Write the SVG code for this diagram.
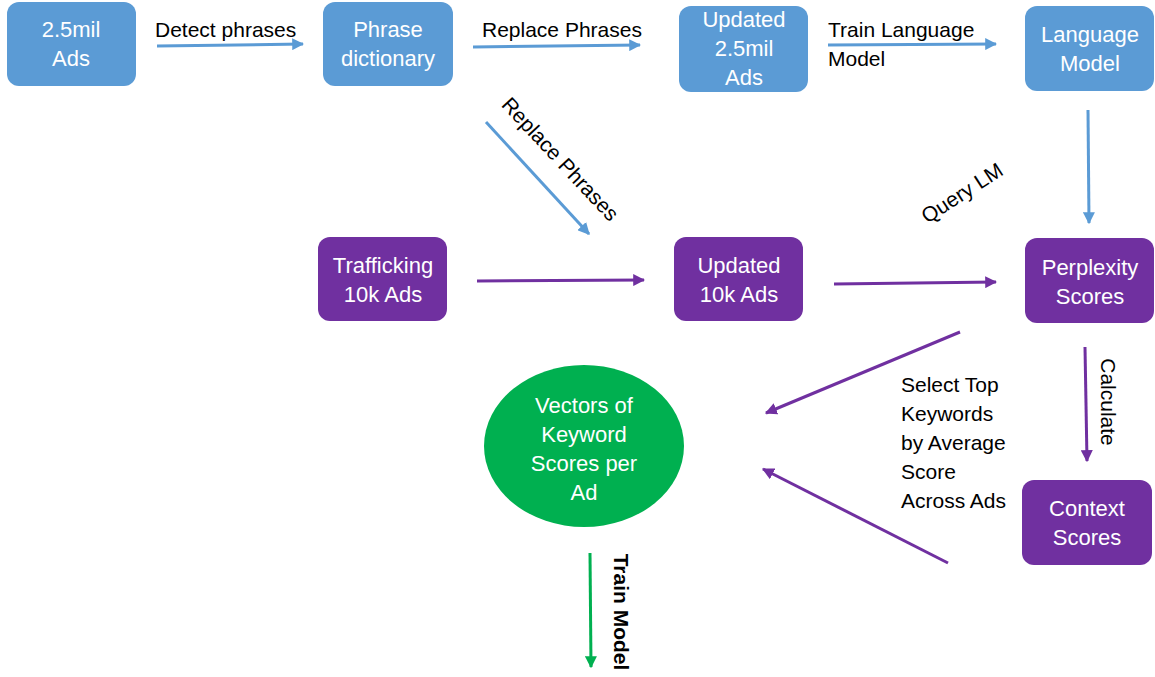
<svg xmlns="http://www.w3.org/2000/svg" width="1155" height="677" viewBox="0 0 1155 677">
<style>
.blue{fill:#5B9BD5}
.purple{fill:#7030A0}
.nt{font-family:"Liberation Sans",Arial,sans-serif;font-size:22px;fill:#fff;text-anchor:middle}
.lt{font-family:"Liberation Sans",Arial,sans-serif;font-size:21px;fill:#000}
.cb{stroke:#5B9BD5;stroke-width:3;fill:none}
.cp{stroke:#7030A0;stroke-width:3;fill:none}
.cg{stroke:#00B050;stroke-width:3;fill:none}
</style>
<defs>
<marker id="ab" viewBox="0 0 10 10" refX="9" refY="5" markerWidth="4" markerHeight="4" orient="auto" markerUnits="strokeWidth"><path d="M0,0 L10,5 L0,10 z" fill="#5B9BD5"/></marker>
<marker id="ap" viewBox="0 0 10 10" refX="9" refY="5" markerWidth="4" markerHeight="4" orient="auto" markerUnits="strokeWidth"><path d="M0,0 L10,5 L0,10 z" fill="#7030A0"/></marker>
<marker id="ag" viewBox="0 0 10 10" refX="9" refY="5" markerWidth="4" markerHeight="4" orient="auto" markerUnits="strokeWidth"><path d="M0,0 L10,5 L0,10 z" fill="#00B050"/></marker>
</defs>
<rect width="1155" height="677" fill="#fff"/>
<g id="connectors">
<line class="cb" x1="157" y1="46" x2="303" y2="44" marker-end="url(#ab)"/>
<line class="cb" x1="473" y1="47" x2="640" y2="45" marker-end="url(#ab)"/>
<line class="cb" x1="828" y1="45" x2="996" y2="44" marker-end="url(#ab)"/>
<line class="cb" x1="1088" y1="110" x2="1089" y2="223" marker-end="url(#ab)"/>
<line class="cb" x1="486" y1="122" x2="589" y2="234" marker-end="url(#ab)"/>
<line class="cp" x1="477" y1="281" x2="644" y2="280" marker-end="url(#ap)"/>
<line class="cp" x1="834" y1="284" x2="996" y2="282" marker-end="url(#ap)"/>
<line class="cp" x1="1085" y1="347" x2="1087" y2="461" marker-end="url(#ap)"/>
<line class="cp" x1="960" y1="332" x2="766" y2="413" marker-end="url(#ap)"/>
<line class="cp" x1="948" y1="563" x2="763" y2="469" marker-end="url(#ap)"/>
<line class="cg" x1="590" y1="553" x2="591" y2="667" marker-end="url(#ag)"/>
<text class="lt" x="155" y="37">Detect phrases</text>
<text class="lt" x="482" y="37">Replace Phrases</text>
<text class="lt" x="828" y="37">Train Language</text>
<text class="lt" x="828" y="66">Model</text>
<text class="lt" transform="translate(555,164) rotate(47)" text-anchor="middle">Replace Phrases</text>
<text class="lt" transform="translate(966,199) rotate(-33)" text-anchor="middle">Query LM</text>
<text class="lt" transform="translate(1101,402) rotate(90)" text-anchor="middle">Calculate</text>
<text class="lt" x="901" y="392">Select Top</text>
<text class="lt" x="901" y="421">Keywords</text>
<text class="lt" x="901" y="450">by Average</text>
<text class="lt" x="901" y="479">Score</text>
<text class="lt" x="901" y="508">Across Ads</text>
<text class="lt" transform="translate(614,612) rotate(90)" text-anchor="middle" font-weight="bold">Train Model</text>
</g>
<g id="n1"><rect class="blue" x="7" y="2" width="129" height="84" rx="12"/><text class="nt" x="71" y="37">2.5mil</text><text class="nt" x="71" y="66">Ads</text></g>
<g id="n2"><rect class="blue" x="323" y="2" width="130" height="84" rx="12"/><text class="nt" x="388" y="37">Phrase</text><text class="nt" x="388" y="66">dictionary</text></g>
<g id="n3"><rect class="blue" x="679" y="6" width="129" height="86" rx="12"/><text class="nt" x="744" y="27">Updated</text><text class="nt" x="744" y="56">2.5mil</text><text class="nt" x="744" y="85">Ads</text></g>
<g id="n4"><rect class="blue" x="1025" y="6" width="129" height="85" rx="12"/><text class="nt" x="1090" y="42">Language</text><text class="nt" x="1090" y="71">Model</text></g>
<g id="n5"><rect class="purple" x="318" y="237" width="129" height="84" rx="12"/><text class="nt" x="383" y="273">Trafficking</text><text class="nt" x="383" y="302">10k Ads</text></g>
<g id="n6"><rect class="purple" x="674" y="237" width="129" height="84" rx="12"/><text class="nt" x="739" y="273">Updated</text><text class="nt" x="739" y="302">10k Ads</text></g>
<g id="n7"><rect class="purple" x="1025" y="238" width="129" height="85" rx="12"/><text class="nt" x="1090" y="275">Perplexity</text><text class="nt" x="1090" y="304">Scores</text></g>
<g id="n8"><rect class="purple" x="1022" y="480" width="130" height="85" rx="12"/><text class="nt" x="1087" y="516">Context</text><text class="nt" x="1087" y="545">Scores</text></g>
<g id="n9"><ellipse cx="584" cy="446" rx="100" ry="81" fill="#00B050"/><text class="nt" x="584" y="413">Vectors of</text><text class="nt" x="584" y="442">Keyword</text><text class="nt" x="584" y="471">Scores per</text><text class="nt" x="584" y="500">Ad</text></g>
</svg>
